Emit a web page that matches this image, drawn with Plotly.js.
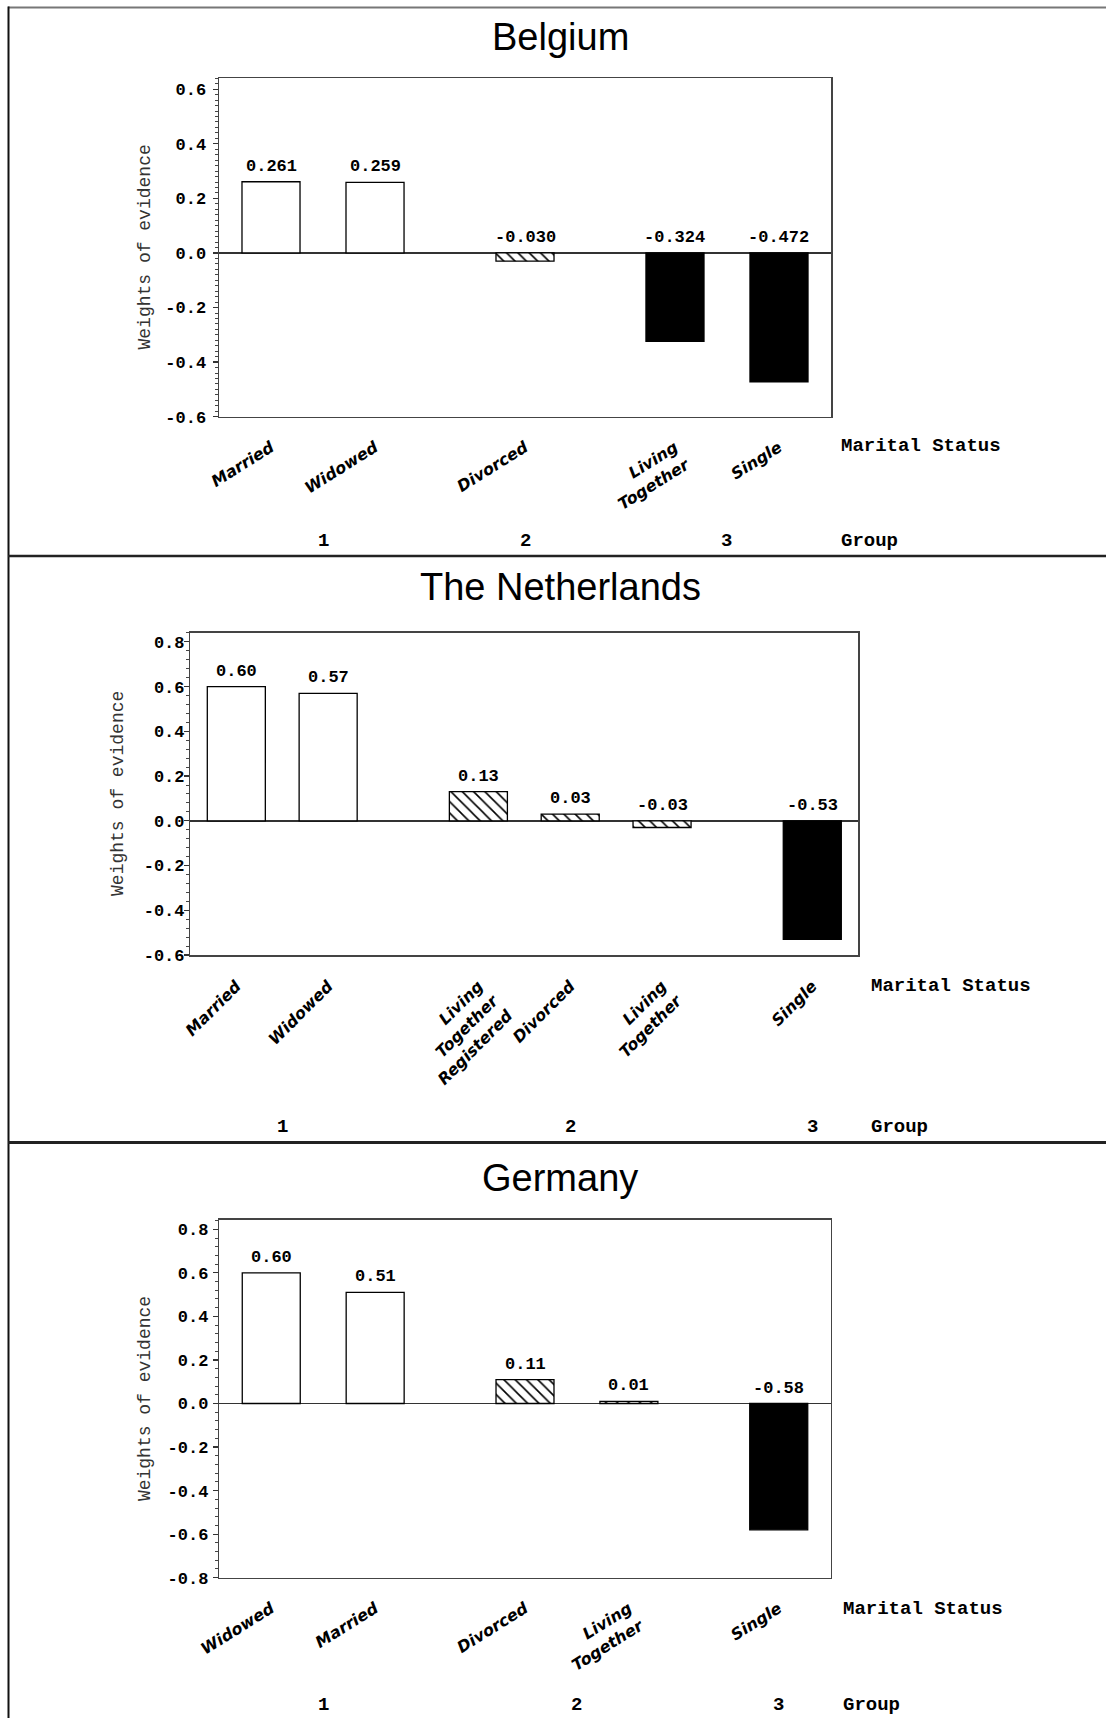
<!DOCTYPE html>
<html><head><meta charset="utf-8">
<script src="https://cdn.plot.ly/plotly-3.0.1.min.js"></script>
<style>html,body{margin:0;padding:0;background:#fff}#chart{width:1106px;height:1718px}</style>
</head><body><div id="chart"></div>
<script>
// ---------- data ----------
const belgiumCategories = ["Married", "Widowed", "Divorced", "Living<br>Together", "Single"];
const belgiumValues = [0.261, 0.259, -0.030, -0.324, -0.472];
const belgiumGroups = [1, 1, 2, 3, 3];
const belgiumYTicks = [-0.6, -0.4, -0.2, 0.0, 0.2, 0.4, 0.6];

const netherlandsCategories = ["Married", "Widowed", "Living<br>Together<br>Registered", "Divorced", "Living<br>Together", "Single"];
const netherlandsValues = [0.60, 0.57, 0.13, 0.03, -0.03, -0.53];
const netherlandsGroups = [1, 1, 2, 2, 2, 3];
const netherlandsYTicks = [-0.6, -0.4, -0.2, 0.0, 0.2, 0.4, 0.6, 0.8];

const germanyCategories = ["Widowed", "Married", "Divorced", "Living<br>Together", "Single"];
const germanyValues = [0.60, 0.51, 0.11, 0.01, -0.58];
const germanyGroups = [1, 1, 2, 2, 3];
const germanyYTicks = [-0.8, -0.6, -0.4, -0.2, 0.0, 0.2, 0.4, 0.6, 0.8];

const groupNames = [1, 2, 3];
const countryTitles = ["Belgium", "The Netherlands", "Germany"];
const yTitle = "Weights of evidence";
const xTitle = "Marital Status";
const groupTitle = "Group";

// ---------- layout helpers ----------
const W = 1106, H = 1718;
const px = x => x / W;
const py = y => 1 - y / H;

const panels = [
  {title: countryTitles[0], cats: belgiumCategories, vals: belgiumValues, groups: belgiumGroups, yticks: belgiumYTicks,
   dec: 3, box: [219, 831, 78.3, 416.7], yrange: [-0.6, 0.64], gap: 0.442, bw: 0.558, angle: -32, minor: 0.02,
   titleY: 37, yTitleX: 145, msX: 839, msY: 446, groupY: 541, standoff: 3, labelStand: 14},
  {title: countryTitles[1], cats: netherlandsCategories, vals: netherlandsValues, groups: netherlandsGroups, yticks: netherlandsYTicks,
   dec: 2, box: [190.4, 858.2, 632.9, 955], yrange: [-0.6, 0.84], gap: 0.636, bw: 0.632, angle: -45, minor: 0.04,
   titleY: 587, yTitleX: 118, msX: 869, msY: 986, groupY: 1127, standoff: -4, labelStand: 14},
  {title: countryTitles[2], cats: germanyCategories, vals: germanyValues, groups: germanyGroups, yticks: germanyYTicks,
   dec: 2, box: [219.3, 830.7, 1219.5, 1577.7], yrange: [-0.8, 0.845], gap: 0.442, bw: 0.558, angle: -32, minor: 0.04,
   titleY: 1178, yTitleX: 144.5, msX: 841, msY: 1609, groupY: 1705, standoff: 1, labelStand: 14}
];

const monoBold = {family: "Liberation Mono", size: 17, color: "#000", weight: "bold"};
const labelFont = {family: "Liberation Mono", size: 19, color: "#000", weight: "bold"};
const groupStyle = {
  1: {color: "#ffffff", pattern: {shape: ""}},
  2: {color: "#ffffff", pattern: {shape: "\\", fgcolor: "#000000", bgcolor: "#ffffff", fillmode: "replace", size: 8, solidity: 0.2}},
  3: {color: "#000000", pattern: {shape: ""}}
};

const traces = [];
const annotations = [];
const layout = {
  width: W, height: H, margin: {l: 0, r: 0, t: 0, b: 0},
  paper_bgcolor: "#fff", plot_bgcolor: "#fff", showlegend: false, barmode: "overlay",
  annotations: annotations,
  shapes: [
    {type: "line", xref: "paper", yref: "paper", x0: px(8), x1: 1, y0: py(7.5), y1: py(7.5), line: {color: "#777", width: 2}},
    {type: "line", xref: "paper", yref: "paper", x0: px(8.5), x1: px(8.5), y0: py(6.5), y1: 0, line: {color: "#111", width: 2}},
    {type: "line", xref: "paper", yref: "paper", x0: px(8), x1: 1, y0: py(556), y1: py(556), line: {color: "#222", width: 2.5}},
    {type: "line", xref: "paper", yref: "paper", x0: px(8), x1: 1, y0: py(1142.5), y1: py(1142.5), line: {color: "#222", width: 3}}
  ]
};

panels.forEach((p, k) => {
  const n = k + 1;
  const xa = n === 1 ? "x" : "x" + n;
  const ya = n === 1 ? "y" : "y" + n;
  // positions: consecutive bars, with an extra gap between groups
  const pos = [];
  let off = 0;
  p.vals.forEach((v, i) => {
    if (i > 0 && p.groups[i] !== p.groups[i - 1]) off += p.gap;
    pos.push(i + off);
  });

  groupNames.forEach(g => {
    const idx = p.groups.map((gg, i) => gg === g ? i : -1).filter(i => i >= 0);
    const st = groupStyle[g];
    traces.push({
      type: "bar", x: idx.map(i => pos[i]), y: idx.map(i => p.vals[i]), width: p.bw,
      xaxis: xa, yaxis: ya, hoverinfo: "skip",
      marker: {color: st.color, line: {color: "#000", width: 1.3}, pattern: st.pattern}
    });
  });

  layout["xaxis" + (n === 1 ? "" : n)] = {
    domain: [px(p.box[0]), px(p.box[1])], anchor: ya,
    range: [-0.5, pos[pos.length - 1] + 0.5],
    tickmode: "array", tickvals: pos, ticktext: p.cats, tickangle: p.angle,
    ticks: "", ticklabelstandoff: p.labelStand,
    tickfont: {family: "DejaVu Sans", size: 16, color: "#000", style: "italic", weight: "bold"},
    showline: true, mirror: true, linecolor: "#444", linewidth: 1.5,
    showgrid: false, zeroline: false, fixedrange: true
  };
  layout["yaxis" + (n === 1 ? "" : n)] = {
    domain: [py(p.box[3]), py(p.box[2])], anchor: xa,
    range: p.yrange,
    tickmode: "array", tickvals: p.yticks, ticktext: p.yticks.map(v => v.toFixed(1)),
    ticks: "outside", ticklen: 5, tickwidth: 1.3, tickcolor: "#333", ticklabelstandoff: p.standoff,
    tickfont: monoBold,
    minor: {tickmode: "linear", tick0: 0, dtick: p.minor, ticks: "outside", ticklen: 2.5, tickwidth: 1, tickcolor: "#444", showgrid: false},
    showline: true, mirror: true, linecolor: "#444", linewidth: 1.5,
    showgrid: false, zeroline: true, zerolinecolor: "#333", zerolinewidth: 1.5, fixedrange: true
  };

  // title
  annotations.push({text: p.title, xref: "paper", yref: "paper", x: px(560), y: py(p.titleY),
    xanchor: "center", yanchor: "middle", showarrow: false,
    font: {family: "Liberation Sans", size: 38, color: "#000"}});
  // y title
  annotations.push({text: yTitle, xref: "paper", yref: "paper", x: px(p.yTitleX), y: py((p.box[2] + p.box[3]) / 2),
    xanchor: "center", yanchor: "middle", textangle: -90, showarrow: false,
    font: {family: "Liberation Mono", size: 18, color: "#333"}});
  // value labels
  p.vals.forEach((v, i) => {
    annotations.push({text: v.toFixed(p.dec), xref: xa, yref: ya, x: pos[i], y: Math.max(v, 0),
      xanchor: "center", yanchor: "bottom", yshift: 4, showarrow: false, font: monoBold});
  });
  // group numbers
  groupNames.forEach(g => {
    const members = pos.filter((_, i) => p.groups[i] === g);
    const cx = members.reduce((a, b) => a + b, 0) / members.length;
    annotations.push({text: String(g), xref: xa, yref: "paper", x: cx, y: py(p.groupY),
      xanchor: "center", yanchor: "middle", showarrow: false, font: labelFont});
  });
  annotations.push({text: groupTitle, xref: "paper", yref: "paper", x: px(p.msX), y: py(p.groupY),
    xanchor: "left", yanchor: "middle", showarrow: false, font: labelFont});
  annotations.push({text: xTitle, xref: "paper", yref: "paper", x: px(p.msX), y: py(p.msY),
    xanchor: "left", yanchor: "middle", showarrow: false, font: labelFont});
});

Plotly.newPlot("chart", traces, layout, {displayModeBar: false, staticPlot: true});
</script>
</body></html>
